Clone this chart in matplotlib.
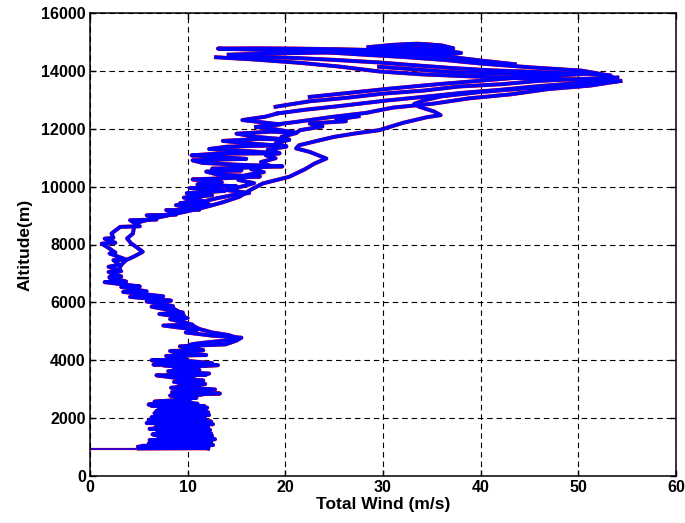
import matplotlib
matplotlib.use("Agg")
import matplotlib.pyplot as plt

# total wind (m/s) against altitude (m), one trace per flight leg

# takeoff roll on the runway
ground_wind = [0.0, 5.0]
ground_alt = [950, 950]

# climb from the airfield up to ~9500 m
climb_wind = [
    5.0, 12.1, 4.9, 12.6, 6.0, 12.4, 6.3, 12.8, 7.0, 11.8, 6.6, 12.4, 7.2, 11.9,
    6.1, 12.1, 6.8, 11.6, 5.8, 12.4, 6.9, 11.8, 6.3, 11.7, 7.4, 12.1, 6.8, 11.2,
    7.6, 11.7, 6.0, 10.5, 6.6, 10.2, 8.8, 10.9, 8.2, 13.3, 9.2, 12.2, 8.3, 11.2,
    9.0, 11.6, 9.4, 6.8, 11.9, 8.2, 11.2, 8.6, 13.1, 6.5, 10.4, 6.3, 9.9, 7.8,
    11.9, 8.2, 11.6, 9.2, 13.9, 15.0, 15.5, 12.5, 9.8, 11.0, 7.5, 10.5, 8.2, 10.0,
    7.1, 9.5, 6.3, 8.5, 5.8, 8.3, 4.1, 7.5, 3.4, 5.8, 3.2, 5.1, 1.5, 3.7,
    2.0, 3.2, 1.9, 3.2, 1.9, 3.0, 2.4, 3.7, 2.0, 2.6, 2.0, 1.2, 2.6, 1.5,
    2.4, 2.2, 3.1, 5.1, 4.1, 6.8, 5.8, 8.8, 7.8, 11.2, 8.8, 12.2, 10.2,
]
climb_alt = [
    950, 960, 1010, 1070, 1120, 1170, 1230, 1270, 1320, 1370, 1420, 1470, 1520, 1570,
    1630, 1680, 1730, 1780, 1830, 1880, 1930, 1980, 2030, 2080, 2130, 2200, 2250, 2300,
    2350, 2420, 2470, 2520, 2570, 2600, 2660, 2700, 2780, 2850, 2920, 2970, 3050, 3140,
    3220, 3300, 3360, 3480, 3500, 3600, 3660, 3740, 3830, 3850, 3930, 4000, 4030, 4150,
    4180, 4320, 4350, 4480, 4550, 4680, 4780, 4850, 4960, 5050, 5200, 5230, 5420, 5460,
    5600, 5650, 5850, 5870, 6030, 6060, 6190, 6210, 6360, 6380, 6530, 6550, 6700, 6720,
    6880, 6900, 7050, 7080, 7230, 7300, 7460, 7480, 7690, 7720, 7860, 8030, 8060, 8200,
    8230, 8380, 8610, 8630, 8840, 8860, 9010, 9030, 9190, 9200, 9360, 9380, 9480,
]

# climb through the upper troposphere, left edge of the profile
upper_wind = [
    10.2, 9.2, 11.5, 9.6, 12.5, 9.9, 13.8, 10.2, 15.0, 11.0, 13.5, 10.5, 14.5, 17.4,
    13.0, 11.9, 15.5, 12.5, 19.7, 15.0, 11.5, 10.5, 16.0, 14.2, 10.4, 13.0, 19.4, 16.5,
    12.2, 14.0, 18.5, 20.1, 16.0, 13.6, 17.5, 20.4, 17.0, 15.0, 18.5, 21.1, 19.0, 17.0,
    19.5, 15.6, 18.0, 19.2,
]
upper_alt = [
    9480, 9420, 9520, 9620, 9700, 9770, 9850, 9950, 10010, 10080, 10150, 10250, 10300, 10350,
    10420, 10520, 10560, 10620, 10700, 10760, 10820, 10910, 10960, 11000, 11080, 11140, 11150, 11220,
    11300, 11380, 11420, 11400, 11500, 11580, 11650, 11620, 11720, 11830, 11900, 11860, 11980, 12060,
    12150, 12300, 12420, 12530,
]

# second pass through the same layer, a little further right
second_wind = [
    9.0, 11.0, 12.2, 11.4, 13.0, 14.5, 16.3, 14.0, 15.5, 16.8, 15.2, 16.0, 17.8, 16.5,
    18.4, 17.5, 19.0, 18.0, 19.4, 18.2, 20.1, 19.0, 20.4, 19.6, 21.1, 21.5, 23.8, 22.5,
    26.2, 25.2, 27.5,
]
second_alt = [
    9150, 9300, 9380, 9470, 9600, 9700, 9780, 9880, 10000, 10120, 10230, 10400, 10500, 10600,
    10720, 10850, 10980, 11080, 11160, 11280, 11380, 11500, 11620, 11720, 11850, 11950, 12080, 12180,
    12260, 12320, 12430,
]

# climbs into the jet core
fan1_wind = [17.0, 21.2, 24.8, 28.3, 31.0, 35.2, 38.8, 43.1, 46.9, 51.2, 54.3]
fan1_alt = [12060, 12240, 12410, 12550, 12730, 12870, 13050, 13190, 13370, 13490, 13650]
fan2_wind = [19.2, 22.1, 25.7, 30.2, 33.8, 38.1, 41.8, 46.2, 49.7, 53.5]
fan2_alt = [12530, 12660, 12790, 12970, 13090, 13240, 13340, 13480, 13570, 13700]
fan3_wind = [19.0, 22.5, 26.3, 29.9, 34.2, 37.8, 42.2, 45.8, 50.1, 54.0]
fan3_alt = [12760, 12950, 13070, 13210, 13320, 13460, 13540, 13650, 13720, 13770]
fan4_wind = [22.5, 27.1, 30.8, 35.3, 38.9, 43.2, 46.8, 51.0, 53.2]
fan4_alt = [13100, 13260, 13390, 13530, 13630, 13750, 13820, 13900, 13840]

# legs near the ceiling, drifting between 13 and 50 m/s
top1_wind = [
    53.2, 50.3, 45.2, 40.1, 36.2, 32.1, 28.0, 24.2, 20.1, 16.0, 13.1, 17.0, 21.0, 25.1,
    29.0, 33.2, 37.0,
]
top1_alt = [
    13840, 14010, 14120, 14250, 14380, 14480, 14560, 14640, 14700, 14740, 14770, 14780, 14770, 14750,
    14720, 14680, 14600,
]
top2_wind = [12.9, 16.5, 21.4, 25.5, 29.6, 34.0, 38.2, 43.0, 48.1, 52.0]
top2_alt = [14470, 14400, 14280, 14150, 13980, 13880, 13820, 13760, 13720, 13650]
top3_wind = [
    14.2, 18.0, 22.1, 26.0, 29.8, 33.1, 36.5, 37.1, 35.2, 33.0, 31.0, 29.0, 31.2, 33.0,
    35.1, 36.6, 35.7, 33.4, 31.6,
]
top3_alt = [
    14560, 14600, 14620, 14650, 14600, 14550, 14560, 14650, 14700, 14720, 14780, 14800, 14880, 14930,
    14900, 14820, 14860, 14900, 14830,
]
top4_wind = [29.6, 33.0, 36.4, 40.0, 44.2, 48.1, 50.3, 53.4]
top4_alt = [14140, 14060, 13970, 13920, 13880, 13850, 13960, 13800]
top5_wind = [14.5, 18.0, 21.4, 25.0, 29.6, 33.0, 37.0, 41.0, 46.0, 50.0]
top5_alt = [14520, 14480, 14440, 14380, 14290, 14200, 14100, 14020, 13960, 13900]
top6_wind = [18.0, 21.4, 25.0, 29.6, 33.0, 37.0, 40.2, 43.5]
top6_alt = [14680, 14720, 14690, 14620, 14560, 14480, 14350, 14230]
top7_wind = [28.5, 31.0, 33.5, 36.0, 37.2, 34.0, 30.0, 32.5, 36.8, 38.0, 35.0, 31.0]
top7_alt = [14820, 14900, 14940, 14880, 14780, 14760, 14850, 14700, 14680, 14620, 14500, 14560]

# descent back to the airfield
descent_wind = [
    54.3, 50.0, 45.5, 40.0, 36.0, 34.3, 33.2, 33.7, 35.2, 35.9, 34.5, 32.0, 29.6, 27.2,
    25.0, 23.0, 21.4, 21.1, 22.5, 24.2, 23.0, 22.0, 20.4, 17.7, 16.5, 15.3, 13.5, 11.9,
    10.0, 8.2, 6.5, 5.1, 4.5, 4.4, 3.8, 4.2, 4.8, 5.4, 4.6, 3.7, 3.2, 3.0,
    2.4, 2.0, 2.6, 3.6, 4.5, 5.5, 6.8, 7.5, 8.2, 9.0, 9.6, 8.8, 9.8, 10.5,
    11.2, 12.5, 14.2, 15.2, 13.8, 12.0, 10.5, 9.6, 10.8, 9.0, 8.0, 9.2, 12.5, 7.5,
    11.0, 8.0, 12.2, 9.5, 10.8, 8.6, 11.8, 9.0, 12.8, 8.4, 11.5, 9.5, 10.2, 7.0,
    11.0, 6.3, 12.0, 7.0, 11.5, 6.6, 12.2, 7.0, 11.0, 6.0, 12.0, 6.4, 12.6, 7.2,
    11.5, 6.5, 12.3, 6.9, 12.0, 6.4, 12.5, 7.3, 11.7, 6.1, 12.4, 6.6, 12.2, 5.3,
    11.8, 12.1,
]
descent_alt = [
    13650, 13560, 13420, 13270, 13120, 12990, 12860, 12760, 12600, 12470, 12400, 12200, 11950, 11840,
    11720, 11560, 11430, 11320, 11200, 10970, 10800, 10600, 10340, 10110, 9900, 9650, 9450, 9300,
    9150, 9020, 8900, 8780, 8600, 8380, 8210, 8040, 7900, 7750, 7600, 7460, 7300, 7150,
    7000, 6850, 6700, 6560, 6420, 6300, 6150, 6000, 5850, 5700, 5560, 5400, 5300, 5200,
    5080, 4960, 4870, 4760, 4680, 4620, 4560, 4450, 4380, 4250, 4100, 4000, 3900, 3820,
    3720, 3620, 3540, 3430, 3330, 3250, 3180, 3080, 2990, 2900, 2820, 2740, 2660, 2580,
    2500, 2420, 2360, 2290, 2230, 2170, 2110, 2050, 1990, 1940, 1890, 1840, 1790, 1740,
    1690, 1640, 1590, 1540, 1490, 1440, 1390, 1340, 1290, 1240, 1190, 1140, 1090, 1040,
    990, 950,
]

legs = [
    (climb_wind, climb_alt),
    (upper_wind, upper_alt),
    (second_wind, second_alt),
    (fan1_wind, fan1_alt),
    (fan2_wind, fan2_alt),
    (fan3_wind, fan3_alt),
    (fan4_wind, fan4_alt),
    (top1_wind, top1_alt),
    (top2_wind, top2_alt),
    (top3_wind, top3_alt),
    (top4_wind, top4_alt),
    (top5_wind, top5_alt),
    (top6_wind, top6_alt),
    (top7_wind, top7_alt),
    (descent_wind, descent_alt),
]

x_ticks = [0, 10, 20, 30, 40, 50, 60]
y_ticks = [0, 2000, 4000, 6000, 8000, 10000, 12000, 14000, 16000]

plt.rcParams['font.family'] = ['Liberation Sans', 'DejaVu Sans']
plt.rcParams['font.weight'] = 'bold'

fig = plt.figure(figsize=(6.85, 5.23), dpi=100)
ax = fig.add_axes([90 / 685, 47 / 523, 586 / 685, 463 / 523])

ax.plot(ground_wind, ground_alt, color='red', lw=1.6)
ax.plot(ground_wind, ground_alt, color='blue', lw=1.1)

# raw trace in red, drawn over by the blue one
for w, a in legs:
    ax.plot(w, a, color='red', lw=2.9)
for w, a in legs:
    ax.plot(w, a, color='blue', lw=2.6)

ax.set_xlim(0, 60)
ax.set_ylim(0, 16000)
ax.set_xticks(x_ticks)
ax.set_yticks(y_ticks)
ax.tick_params(direction='in', length=4, width=1, top=True, right=True,
               labelsize=11.5, pad=3)
for label in ax.get_xticklabels() + ax.get_yticklabels():
    label.set_fontweight('bold')

ax.grid(True, color='black', linestyle=(0, (5, 3.5)), linewidth=0.8)
ax.set_axisbelow(True)
for spine in ax.spines.values():
    spine.set_linewidth(1.1)

ax.set_xlabel('Total Wind (m/s)', fontsize=12.5, fontweight='bold', labelpad=1)
ax.set_ylabel('Altitude(m)', fontsize=12.5, fontweight='bold', labelpad=6)

fig.savefig('out.png', dpi=100)
